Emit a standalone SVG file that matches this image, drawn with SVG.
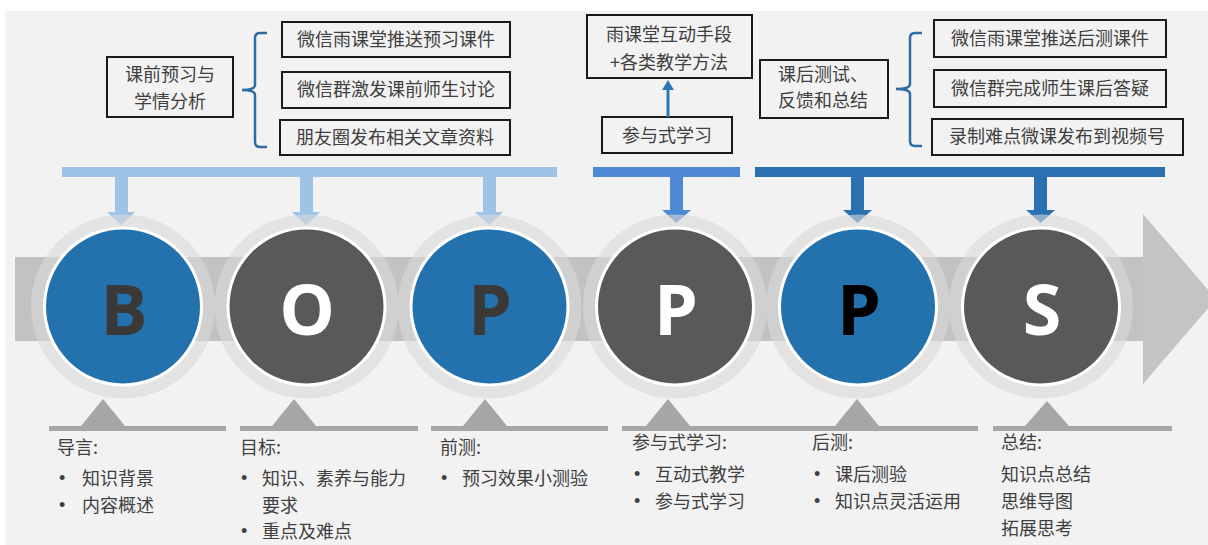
<svg xmlns="http://www.w3.org/2000/svg" width="1208" height="545" viewBox="0 0 1208 545">
<defs>
<style>
.t{font-family:"Noto Sans CJK SC","Noto Sans",sans-serif;font-size:18px;fill:#404040}
.bu{font-family:"Liberation Sans",Arial,sans-serif;font-size:18px;fill:#404040}
.box{fill:#f2f2f2;stroke:#1a1a1a;stroke-width:2}
.halo{fill:#d8d8d8;fill-opacity:0.6}
.cb{fill:#2371ad;stroke:#ffffff;stroke-width:3}
.cg{fill:#595959;stroke:#ffffff;stroke-width:3}
.let{font-family:"Open Sans","DejaVu Sans",sans-serif;font-weight:bold;font-size:70px;text-anchor:middle}
.br{fill:none;stroke:#2e6da4;stroke-width:2.5}
.tri{fill:#a6a6a6}
.mid{text-anchor:middle}
</style>
</defs>
<rect x="0" y="0" width="1208" height="545" fill="#ffffff"/>
<rect x="5" y="11" width="1203" height="534" fill="#f2f2f2"/>
<!-- big arrow band -->
<g id="band">
<rect x="15" y="257" width="1130" height="84" fill="#c2c2c2"/>
<polygon points="1143,214 1216,299 1143,384" fill="#c4c4c4"/>
</g>
<!-- top boxes -->
<g id="box-pre">
<rect class="box" x="107" y="57" width="126" height="60"/>
<text class="t mid" x="170" y="81">课前预习与</text>
<text class="t mid" x="170" y="108">学情分析</text>
</g>
<g id="box-pre1"><rect class="box" x="282" y="22" width="228" height="35"/><text class="t mid" x="396" y="46">微信雨课堂推送预习课件</text></g>
<g id="box-pre2"><rect class="box" x="282" y="72" width="228" height="36"/><text class="t mid" x="396" y="96">微信群激发课前师生讨论</text></g>
<g id="box-pre3"><rect class="box" x="280" y="120" width="230" height="35"/><text class="t mid" x="395" y="144">朋友圈发布相关文章资料</text></g>
<g id="box-int">
<rect class="box" x="587" y="15" width="165" height="63"/>
<text class="t mid" x="669" y="41">雨课堂互动手段</text>
<text class="t mid" x="669" y="69">+各类教学方法</text>
</g>
<g id="box-part"><rect class="box" x="602" y="117" width="130" height="36"/><text class="t mid" x="667" y="142">参与式学习</text></g>
<g id="box-post">
<rect class="box" x="760" y="60" width="128" height="58"/>
<text class="t" x="778" y="81">课后测试、</text>
<text class="t" x="778" y="107">反馈和总结</text>
</g>
<g id="box-post1"><rect class="box" x="934" y="20" width="232" height="37"/><text class="t mid" x="1050" y="45">微信雨课堂推送后测课件</text></g>
<g id="box-post2"><rect class="box" x="934" y="70" width="232" height="37"/><text class="t mid" x="1050" y="95">微信群完成师生课后答疑</text></g>
<g id="box-post3"><rect class="box" x="932" y="119" width="251" height="36"/><text class="t mid" x="1057" y="143">录制难点微课发布到视频号</text></g>
<!-- connectors -->
<g id="connectors">
<path class="br" d="M267,33 H260 Q255,33 255,38 V85 Q255,90 242,90 Q255,90 255,95 V142 Q255,147 260,147 H267"/>
<path class="br" d="M922,33 H915 Q910,33 910,38 V84 Q910,89 896,89 Q910,89 910,94 V141 Q910,146 915,146 H922"/>
<line x1="668" y1="117" x2="668" y2="88" stroke="#2e75b6" stroke-width="3"/>
<polygon points="662,90 674,90 668,80" fill="#2e75b6"/>
<g fill="#9dc3e6">
<rect x="62" y="167" width="495" height="10"/>
<rect x="115" y="176" width="13" height="37"/><polygon points="107,212 135,212 121,225"/>
<rect x="300" y="176" width="13" height="37"/><polygon points="292,212 320,212 306,225"/>
<rect x="483" y="176" width="13" height="37"/><polygon points="475,212 503,212 489,225"/>
</g>
<g fill="#4d89d5">
<rect x="593" y="167" width="147" height="10"/>
<rect x="670" y="176" width="13" height="35"/><polygon points="662,210 691,210 676.5,223"/>
</g>
<g fill="#2b70b0">
<rect x="755" y="167" width="410" height="10"/>
<rect x="851" y="176" width="13" height="35"/><polygon points="843,210 872,210 857.5,223"/>
<rect x="1034" y="176" width="13" height="35"/><polygon points="1026,210 1055,210 1040.5,223"/>
</g>
</g>
<!-- circle nodes -->
<g id="node-B"><circle class="halo" cx="123" cy="306.5" r="92"/><circle class="cb" cx="123" cy="306.5" r="78.5"/><text class="let" x="124" y="335" fill="#3b3838">B</text></g>
<g id="node-O"><circle class="halo" cx="306.5" cy="306.5" r="92"/><circle class="cg" cx="306.5" cy="306.5" r="78.5"/><text class="let" x="307" y="335" fill="#ffffff">O</text></g>
<g id="node-P1"><circle class="halo" cx="489.5" cy="306.5" r="92"/><circle class="cb" cx="489.5" cy="306.5" r="78.5"/><text class="let" x="490" y="335" fill="#3b3838">P</text></g>
<g id="node-P2"><circle class="halo" cx="675" cy="306.5" r="92"/><circle class="cg" cx="675" cy="306.5" r="78.5"/><text class="let" x="676" y="335" fill="#ffffff">P</text></g>
<g id="node-P3"><circle class="halo" cx="858" cy="306.5" r="92"/><circle class="cb" cx="858" cy="306.5" r="78.5"/><text class="let" x="859" y="335" fill="#000000">P</text></g>
<g id="node-S"><circle class="halo" cx="1041" cy="306.5" r="92"/><circle class="cg" cx="1041" cy="306.5" r="78.5"/><text class="let" x="1042" y="335" fill="#ffffff">S</text></g>
<!-- bottom pointers -->
<g id="pointers">
<rect class="tri" x="49" y="426" width="177" height="5"/><polygon class="tri" points="81,426 103,399 125,426"/>
<rect class="tri" x="240" y="426" width="178" height="5"/><polygon class="tri" points="272,426 294,399 316,426"/>
<rect class="tri" x="431" y="426" width="177" height="5"/><polygon class="tri" points="463,426 485,399 507,426"/>
<rect class="tri" x="622" y="426" width="356" height="5"/><polygon class="tri" points="646,426 668,399 690,426"/><polygon class="tri" points="835,426 857,399 879,426"/>
<rect class="tri" x="993" y="426" width="179" height="5"/><polygon class="tri" points="1025,426 1047,401 1069,426"/>
</g>
<!-- bottom texts -->
<g id="text-B">
<text class="t" x="57" y="454">导言:</text>
<text class="bu" x="59" y="484">•</text><text class="t" x="82" y="485">知识背景</text>
<text class="bu" x="59" y="511">•</text><text class="t" x="82" y="512">内容概述</text>
</g>
<g id="text-O">
<text class="t" x="240" y="454">目标:</text>
<text class="bu" x="241" y="484">•</text><text class="t" x="262" y="485">知识、素养与能力</text>
<text class="t" x="262" y="512">要求</text>
<text class="bu" x="241" y="537">•</text><text class="t" x="262" y="538">重点及难点</text>
</g>
<g id="text-P1">
<text class="t" x="440" y="454">前测:</text>
<text class="bu" x="441" y="484">•</text><text class="t" x="462" y="485">预习效果小测验</text>
</g>
<g id="text-P2">
<text class="t" x="632" y="449">参与式学习:</text>
<text class="bu" x="634" y="480">•</text><text class="t" x="655" y="481">互动式教学</text>
<text class="bu" x="634" y="507">•</text><text class="t" x="655" y="508">参与式学习</text>
</g>
<g id="text-P3">
<text class="t" x="812" y="449">后测:</text>
<text class="bu" x="814" y="480">•</text><text class="t" x="835" y="481">课后测验</text>
<text class="bu" x="814" y="507">•</text><text class="t" x="835" y="508">知识点灵活运用</text>
</g>
<g id="text-S">
<text class="t" x="1001" y="449">总结:</text>
<text class="t" x="1001" y="481">知识点总结</text>
<text class="t" x="1001" y="508">思维导图</text>
<text class="t" x="1001" y="535">拓展思考</text>
</g>
</svg>
